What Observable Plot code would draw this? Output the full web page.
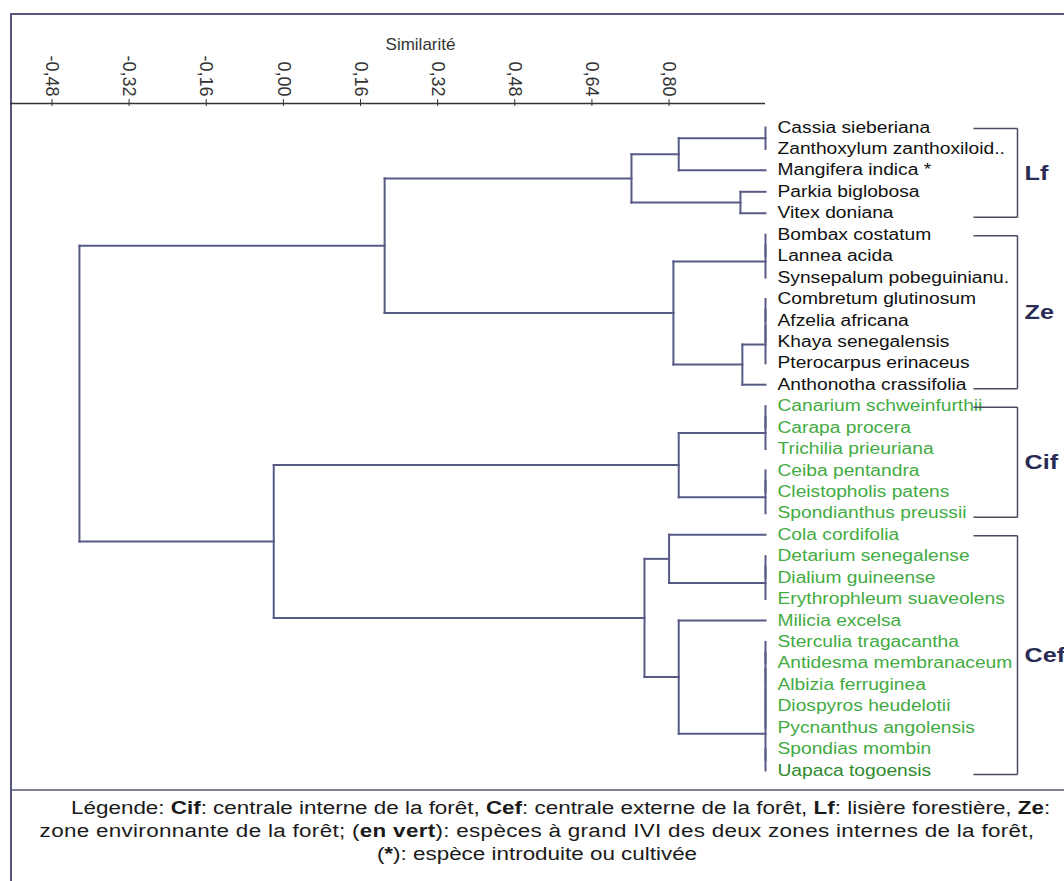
<!DOCTYPE html>
<html><head><meta charset="utf-8">
<script src="https://cdn.jsdelivr.net/npm/d3@7"></script>
<script src="https://cdn.jsdelivr.net/npm/@observablehq/plot@0.6"></script>
<style>
html,body{margin:0;padding:0;background:#fff;}
#wrap{position:relative;width:1064px;height:881px;overflow:hidden;font-family:"Liberation Sans",Arial,sans-serif;}
#frame{position:absolute;left:10px;top:13px;width:1060px;height:778px;border-top:2px solid #55587a;border-left:2px solid #55587a;border-bottom:2px solid #7d8096;box-sizing:border-box;}
#legendbox{position:absolute;left:10px;top:790px;width:1054px;height:91px;border-left:2px solid #55587a;box-sizing:border-box;}
#chart{position:absolute;left:0;top:0;}
#legend{position:absolute;left:10px;width:1054px;top:797px;text-align:center;font-size:18px;line-height:23px;color:#1a1a1a;transform:scaleX(1.245);transform-origin:50% 0;white-space:nowrap;}
#legend .l1{margin-left:38px;}
#legend .l2{letter-spacing:0.25px;}
</style>
</head><body>
<div id="wrap">
  <div id="frame"></div>
  <div id="legendbox"></div>
  <div id="chart"></div>
  <div id="legend"><div class="l1">Légende: <b>Cif</b>: centrale interne de la forêt, <b>Cef</b>: centrale externe de la forêt, <b>Lf</b>: lisière forestière, <b>Ze</b>:</div><div class="l2">zone environnante de la forêt; (<b>en vert</b>): espèces à grand IVI des deux zones internes de la forêt,</div><div>(<b>*</b>): espèce introduite ou cultivée</div></div>
</div>
<script>
// ---- data ----
const species = [
  "Cassia sieberiana","Zanthoxylum zanthoxiloid..","Mangifera indica","Parkia biglobosa","Vitex doniana",
  "Bombax costatum","Lannea acida","Synsepalum pobeguinianu.","Combretum glutinosum","Afzelia africana",
  "Khaya senegalensis","Pterocarpus erinaceus","Anthonotha crassifolia",
  "Canarium schweinfurthii","Carapa procera","Trichilia prieuriana","Ceiba pentandra","Cleistopholis patens","Spondianthus preussii",
  "Cola cordifolia","Detarium senegalense","Dialium guineense","Erythrophleum suaveolens","Milicia excelsa",
  "Sterculia tragacantha","Antidesma membranaceum","Albizia ferruginea","Diospyros heudelotii","Pycnanthus angolensis",
  "Spondias mombin","Uapaca togoensis"
];
const greenSpecies = species.slice(13);          // (en vert)
const darkGreenSpecies = ["Uapaca togoensis"];
const introduced = ["Mangifera indica"];          // (*)

// merges: [child A, child B, similarity]; "#k" refers to merge k
const merges = [
  ["Cassia sieberiana","Zanthoxylum zanthoxiloid..",1.0],   //0
  ["#0","Mangifera indica",0.82],                           //1
  ["Parkia biglobosa","Vitex doniana",0.948],               //2
  ["#1","#2",0.722],                                        //3
  ["Bombax costatum","Lannea acida",1.0],                   //4
  ["#4","Synsepalum pobeguinianu.",1.0],                    //5
  ["Combretum glutinosum","Afzelia africana",1.0],          //6
  ["#6","Khaya senegalensis",1.0],                          //7
  ["#7","Pterocarpus erinaceus",1.0],                       //8
  ["#8","Anthonotha crassifolia",0.952],                    //9
  ["#5","#9",0.809],                                        //10
  ["#3","#10",0.21],                                        //11
  ["Canarium schweinfurthii","Carapa procera",1.0],         //12
  ["#12","Trichilia prieuriana",1.0],                       //13
  ["Ceiba pentandra","Cleistopholis patens",1.0],           //14
  ["#14","Spondianthus preussii",1.0],                      //15
  ["#13","#15",0.82],                                       //16
  ["Detarium senegalense","Dialium guineense",1.0],         //17
  ["#17","Erythrophleum suaveolens",1.0],                   //18
  ["Cola cordifolia","#18",0.80],                           //19
  ["Sterculia tragacantha","Antidesma membranaceum",1.0],   //20
  ["#20","Albizia ferruginea",1.0],                         //21
  ["#21","Diospyros heudelotii",1.0],                       //22
  ["#22","Pycnanthus angolensis",1.0],                      //23
  ["Spondias mombin","Uapaca togoensis",1.0],               //24
  ["#23","#24",1.0],                                        //25
  ["Milicia excelsa","#25",0.82],                           //26
  ["#19","#26",0.749],                                      //27
  ["#16","#27",-0.02],                                      //28
  ["#11","#28",-0.423]                                      //29
];

const groupNames = ["Lf","Ze","Cif","Cef"];
const groupFirst = ["Cassia sieberiana","Bombax costatum","Canarium schweinfurthii","Cola cordifolia"];
const groupLast  = ["Vitex doniana","Anthonotha crassifolia","Spondianthus preussii","Uapaca togoensis"];

const xTicks = [-0.48,-0.32,-0.16,0.00,0.16,0.32,0.48,0.64,0.80];
const axisTitle = "Similarité";

// ---- layout / style ----
const W = 1064, H = 790;
const mLeft = 10, mRight = 299, mTop = 103, mBottom = 20;
const xLeft = -0.566;                 // similarity at left frame edge
const yTop = -1.12;                   // leaf-row units above first leaf, where the axis sits
const lineColor = "#565a85";
const px = d3.scaleLinear().domain([xLeft, 1]).range([mLeft, W - mRight]);
const bracketX1 = px.invert(973), bracketX2 = px.invert(1017), groupLabelX = px.invert(1024);
const rowPx = (H - mBottom - mTop) / (species.length - 1 - yTop);

// ---- build tree geometry ----
const idx = new Map(species.map((s, i) => [s, i]));
const nodes = [];
const segs = [];
const ref = r => r.startsWith("#") ? nodes[+r.slice(1)] : {x: 1, y: idx.get(r)};
for (const [a, b, s] of merges) {
  const A = ref(a), B = ref(b);
  if (A.x !== s) segs.push({x1: A.x, y1: A.y, x2: s, y2: A.y});
  if (B.x !== s) segs.push({x1: B.x, y1: B.y, x2: s, y2: B.y});
  segs.push({x1: s, y1: A.y, x2: s, y2: B.y});
  nodes.push({x: s, y: (A.y + B.y) / 2});
}
const leaves = species.map((name, i) => ({
  name: introduced.includes(name) ? name + " *" : name, i,
  color: darkGreenSpecies.includes(name) ? "#2f8a2f" : greenSpecies.includes(name) ? "#43ab43" : "#111"
}));
const groups = groupNames.map((name, k) => {
  const top = idx.get(groupFirst[k]) + 1 / rowPx;
  const bot = idx.get(groupLast[k]) + 4 / rowPx;
  return {name, top, bot, mid: (top + bot) / 2};
});
const bracketSegs = groups.flatMap(g => [
  {x1: bracketX1, y1: g.top, x2: bracketX2, y2: g.top},
  {x1: bracketX2, y1: g.top, x2: bracketX2, y2: g.bot},
  {x1: bracketX1, y1: g.bot, x2: bracketX2, y2: g.bot}
]);

const fmt = d => d.toFixed(2).replace(".", ",");

const chart = Plot.plot({
  width: W, height: H,
  marginLeft: mLeft, marginRight: mRight, marginTop: mTop, marginBottom: mBottom,
  x: {domain: [xLeft, 1]},
  y: {domain: [yTop, species.length - 1], reverse: true, axis: null},
  style: {background: "transparent", fontFamily: "'Liberation Sans', Arial, sans-serif", overflow: "visible"},
  marks: [
    Plot.ruleY([yTop], {stroke: "#333", strokeWidth: 1.5}),
    Plot.axisX(xTicks, {anchor: "top", tickSize: 5, tickPadding: 2, tickRotate: 90, tickFormat: fmt,
      fontSize: 18, label: null, stroke: "#333", fill: "#333"}),
    Plot.ruleX(xTicks, {y1: yTop, y2: yTop + 3 / rowPx, stroke: "#333"}),
    Plot.text([axisTitle], {frameAnchor: "top-left", dx: 410, dy: -66, fontSize: 17, fill: "#333", textAnchor: "middle"}),
    Plot.link(segs, {x1: "x1", y1: "y1", x2: "x2", y2: "y2", stroke: lineColor, strokeWidth: 2, strokeLinecap: "square"}),
    Plot.text(leaves, {x: () => 1, y: "i", text: "name", fill: "color", textAnchor: "start", dx: 12, fontSize: 16, className: "species"}),
    Plot.link(bracketSegs, {x1: "x1", y1: "y1", x2: "x2", y2: "y2", stroke: "#4a4a5e", strokeWidth: 1.5}),
    Plot.text(groups, {x: () => groupLabelX, y: "mid", text: "name", fill: "#2a2c55", fontWeight: "bold", fontSize: 21, textAnchor: "start", className: "groups"})
  ]
});
document.getElementById("chart").appendChild(chart);
// horizontal stretch of labels as in the reference picture
for (const t of chart.querySelectorAll('.species text, .groups text')) {
  const w = t.getComputedTextLength();
  if (w > 0) {
    t.setAttribute("textLength", w * 1.2);
    t.setAttribute("lengthAdjust", "spacingAndGlyphs");
  }
}
</script>
</body></html>
